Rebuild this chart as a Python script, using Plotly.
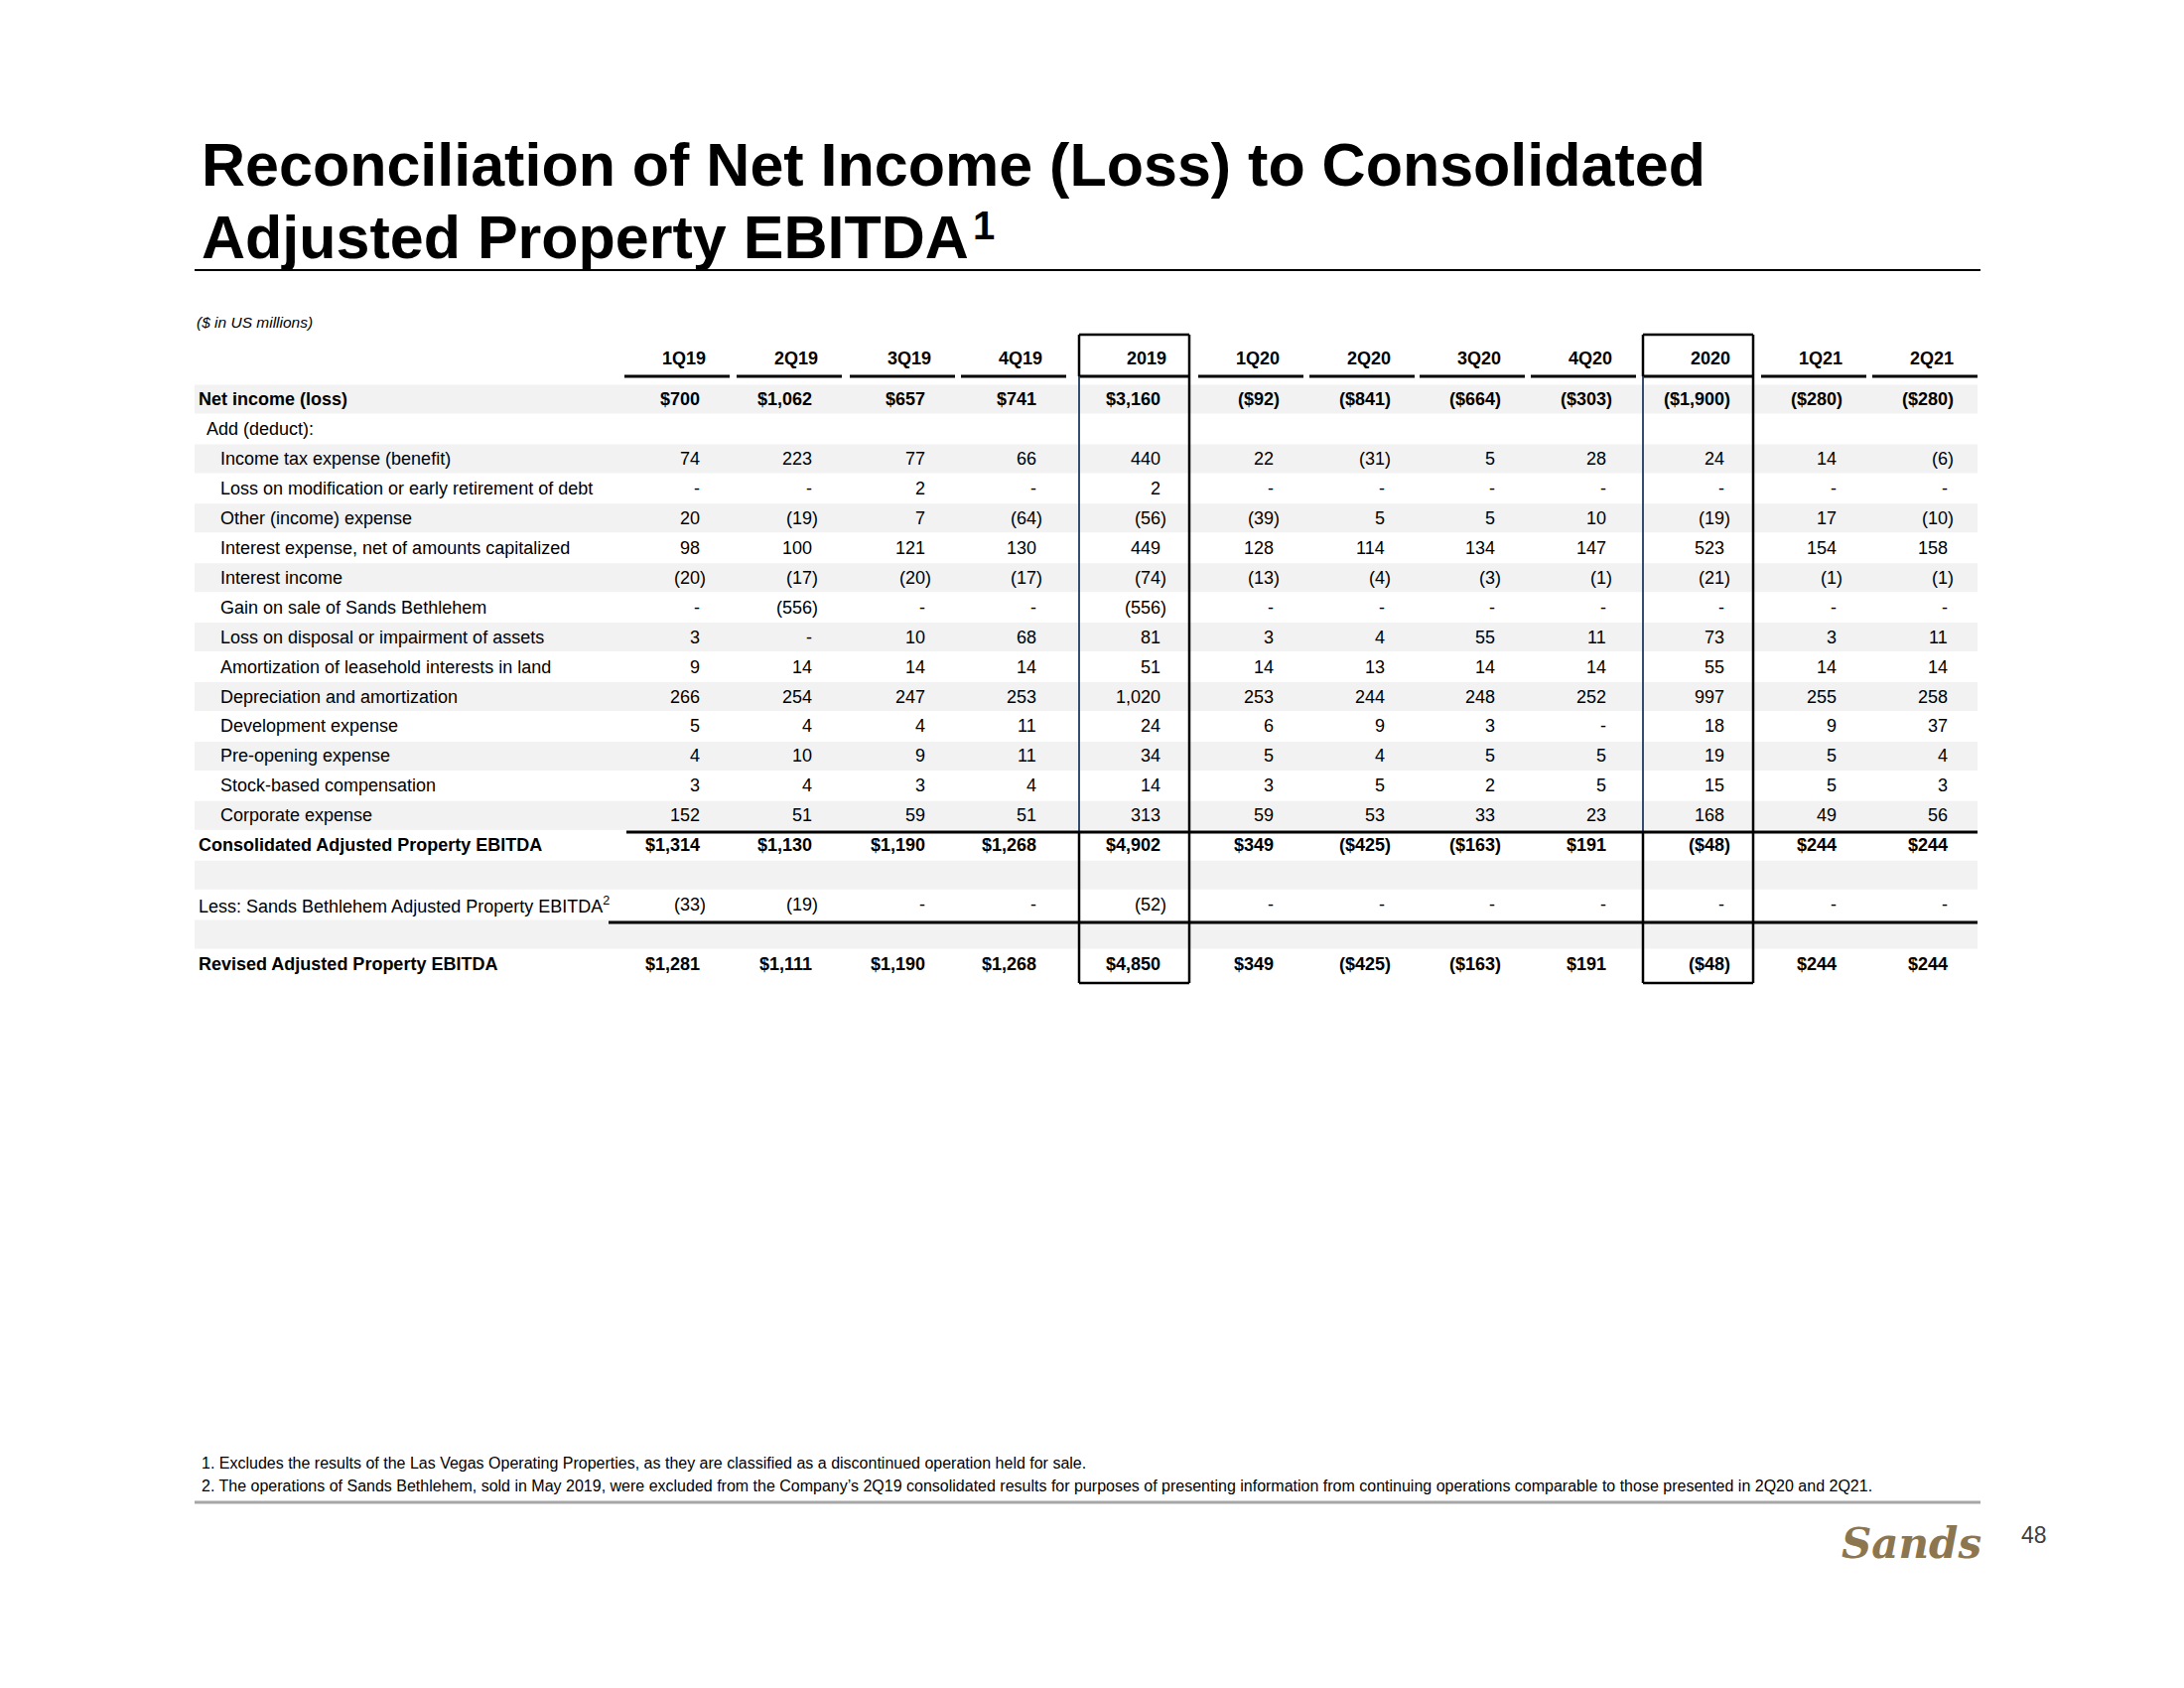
import plotly.graph_objects as go

# ---------------- data ----------------
periods = ["1Q19", "2Q19", "3Q19", "4Q19", "2019", "1Q20", "2Q20", "3Q20", "4Q20", "2020", "1Q21", "2Q21"]
year_periods = ["2019", "2020"]

net_income = [700, 1062, 657, 741, 3160, -92, -841, -664, -303, -1900, -280, -280]
income_tax = [74, 223, 77, 66, 440, 22, -31, 5, 28, 24, 14, -6]
loss_modification = [None, None, 2, None, 2, None, None, None, None, None, None, None]
other_income = [20, -19, 7, -64, -56, -39, 5, 5, 10, -19, 17, -10]
interest_expense = [98, 100, 121, 130, 449, 128, 114, 134, 147, 523, 154, 158]
interest_income = [-20, -17, -20, -17, -74, -13, -4, -3, -1, -21, -1, -1]
gain_bethlehem = [None, -556, None, None, -556, None, None, None, None, None, None, None]
loss_disposal = [3, None, 10, 68, 81, 3, 4, 55, 11, 73, 3, 11]
amort_leasehold = [9, 14, 14, 14, 51, 14, 13, 14, 14, 55, 14, 14]
depreciation = [266, 254, 247, 253, 1020, 253, 244, 248, 252, 997, 255, 258]
development = [5, 4, 4, 11, 24, 6, 9, 3, None, 18, 9, 37]
pre_opening = [4, 10, 9, 11, 34, 5, 4, 5, 5, 19, 5, 4]
stock_comp = [3, 4, 3, 4, 14, 3, 5, 2, 5, 15, 5, 3]
corporate = [152, 51, 59, 51, 313, 59, 53, 33, 23, 168, 49, 56]
consolidated_ebitda = [1314, 1130, 1190, 1268, 4902, 349, -425, -163, 191, -48, 244, 244]
less_bethlehem = [-33, -19, None, None, -52, None, None, None, None, None, None, None]
revised_ebitda = [1281, 1111, 1190, 1268, 4850, 349, -425, -163, 191, -48, 244, 244]

# (label, values, kind)
rows = [
    ("Net income (loss)", net_income, "total"),
    ("Add (deduct):", None, "section"),
    ("Income tax expense (benefit)", income_tax, "item"),
    ("Loss on modification or early retirement of debt", loss_modification, "item"),
    ("Other (income) expense", other_income, "item"),
    ("Interest expense, net of amounts capitalized", interest_expense, "item"),
    ("Interest income", interest_income, "item"),
    ("Gain on sale of Sands Bethlehem", gain_bethlehem, "item"),
    ("Loss on disposal or impairment of assets", loss_disposal, "item"),
    ("Amortization of leasehold interests in land", amort_leasehold, "item"),
    ("Depreciation and amortization", depreciation, "item"),
    ("Development expense", development, "item"),
    ("Pre-opening expense", pre_opening, "item"),
    ("Stock-based compensation", stock_comp, "item"),
    ("Corporate expense", corporate, "item"),
    ("Consolidated Adjusted Property EBITDA", consolidated_ebitda, "total"),
    ("", None, "blank"),
    ("Less: Sands Bethlehem Adjusted Property EBITDA<sup>2</sup>", less_bethlehem, "less"),
    ("", None, "blank"),
    ("Revised Adjusted Property EBITDA", revised_ebitda, "total"),
]

title_line1 = "Reconciliation of Net Income (Loss) to Consolidated"
title_line2 = "Adjusted Property EBITDA"
title_note_mark = "1"
units_note = "($ in US millions)"
footnotes = [
    "1. Excludes the results of the Las Vegas Operating Properties, as they are classified as a discontinued operation held for sale.",
    "2. The operations of Sands Bethlehem, sold in May 2019, were excluded from the Company\u2019s 2Q19 consolidated results for purposes of presenting information from continuing operations comparable to those presented in 2Q20 and 2Q21.",
]
page_number = "48"
logo_text = "Sands"

# ---------------- layout constants ----------------
W, H = 2200, 1700
OFF = 8  # page body margin compensation
BODY = "Liberation Sans, Arial, Helvetica, sans-serif"
SANS = "Liberation Sans, Arial, Helvetica, sans-serif"
col_right = [713, 826, 940, 1052, 1177, 1291, 1403, 1514, 1626, 1745, 1858, 1970]
fs = 18
paren_w = 0.333 * fs
row0_y = 402
row_h = 29.95
header_y = 361
header_line_y = 379
box_top = 337
box_bottom = 990
table_left, table_right = 196, 1992
cons_line_y = 838
less_line_y = 929


def fmt(v, dollar):
    if v is None:
        return "-"
    s = f"{abs(v):,}"
    if dollar:
        s = "$" + s
    return f"({s})" if v < 0 else s


def row_y(i):
    return row0_y + row_h * i


fig = go.Figure()
shapes = []
annotations = []

# row shading
for i in range(len(rows)):
    if i % 2 == 0:
        y = row_y(i)
        shapes.append(dict(type="rect", x0=table_left, x1=table_right, y0=y - 14.5, y1=y + 14.5,
                           fillcolor="#f2f2f2", line=dict(width=0), layer="below"))

# header labels and underlines
for j, p in enumerate(periods):
    cr = col_right[j]
    annotations.append(dict(x=cr, y=header_y, text=f"<b>{p}</b>", xanchor="right", yanchor="middle",
                            showarrow=False, font=dict(family=BODY, size=fs, color="black")))
    if p in year_periods:
        x0, x1 = cr - 90, cr + 21
    else:
        x0, x1 = cr - 84, cr + 22
    shapes.append(dict(type="line", x0=x0, x1=x1, y0=header_line_y, y1=header_line_y,
                       line=dict(color="black", width=3)))

# year boxes
for j, p in enumerate(periods):
    if p in year_periods:
        cr = col_right[j]
        x0, x1 = cr - 90, cr + 21
        blk = dict(color="black", width=2.5)
        shapes.append(dict(type="line", x0=x0, x1=x1, y0=box_top, y1=box_top, line=blk))
        shapes.append(dict(type="line", x0=x0, x1=x1, y0=box_bottom, y1=box_bottom, line=blk))
        shapes.append(dict(type="line", x0=x1, x1=x1, y0=box_top, y1=box_bottom, line=blk))
        shapes.append(dict(type="line", x0=x0, x1=x0, y0=box_top, y1=header_line_y, line=blk))
        shapes.append(dict(type="line", x0=x0, x1=x0, y0=header_line_y, y1=cons_line_y,
                           line=dict(color="#1f3a5f", width=1.8)))
        shapes.append(dict(type="line", x0=x0, x1=x0, y0=cons_line_y, y1=box_bottom, line=blk))

# total lines
shapes.append(dict(type="line", x0=631, x1=table_right, y0=cons_line_y, y1=cons_line_y,
                   line=dict(color="black", width=3)))
shapes.append(dict(type="line", x0=613, x1=table_right, y0=less_line_y, y1=less_line_y,
                   line=dict(color="black", width=3)))

# rows
for i, (label, vals, kind) in enumerate(rows):
    y = row_y(i)
    if kind == "total":
        lx, txt = 198, f"<b>{label}</b>"
    elif kind == "section":
        lx, txt = 206, label
    elif kind == "item":
        lx, txt = 220, label
    else:
        lx, txt = 198, label
    if label:
        annotations.append(dict(x=lx, y=y, text=txt, xanchor="left", yanchor="middle", showarrow=False,
                                font=dict(family=BODY, size=fs, color="black")))
    if vals is None:
        continue
    dollar = kind == "total"
    for j, v in enumerate(vals):
        s = fmt(v, dollar)
        x = col_right[j] if (v is not None and v < 0) else col_right[j] - paren_w
        if dollar:
            s = f"<b>{s}</b>"
        annotations.append(dict(x=x, y=y, text=s, xanchor="right", yanchor="middle", showarrow=False,
                                font=dict(family=BODY, size=fs, color="black")))

# title
annotations.append(dict(x=201, y=166, text=f"<b>{title_line1}</b>", xanchor="left", yanchor="middle",
                        showarrow=False, font=dict(family=SANS, size=61, color="black")))
annotations.append(dict(x=201, y=239, text=f"<b>{title_line2}</b>", xanchor="left", yanchor="middle",
                        showarrow=False, font=dict(family=SANS, size=61, color="black")))
annotations.append(dict(x=978, y=227, text=f"<b>{title_note_mark}</b>", xanchor="left", yanchor="middle",
                        showarrow=False, font=dict(family=SANS, size=40, color="black")))
shapes.append(dict(type="line", x0=196, x1=1995, y0=272, y1=272, line=dict(color="black", width=2)))

annotations.append(dict(x=196, y=324, text=f"<i>{units_note}</i>", xanchor="left", yanchor="middle",
                        showarrow=False, font=dict(family=BODY, size=15.5, color="black")))

# footnotes
for k, ftxt in enumerate(footnotes):
    annotations.append(dict(x=201, y=1473 + 23 * k, text=ftxt, xanchor="left", yanchor="middle",
                            showarrow=False, font=dict(family=BODY, size=16, color="black")))
shapes.append(dict(type="line", x0=196, x1=1995, y0=1513, y1=1513, line=dict(color="#a6a6a6", width=3)))

# logo & page number
annotations.append(dict(x=1925, y=1554, text=f"<b><i>{logo_text}</i></b>", xanchor="center", yanchor="middle",
                        showarrow=False, font=dict(family="DejaVu Serif, serif", size=42, color="#8c7650")))
annotations.append(dict(x=2049, y=1546, text=page_number, xanchor="center", yanchor="middle",
                        showarrow=False, font=dict(family=BODY, size=23, color="#404040")))

fig.update_layout(
    width=W, height=H, margin=dict(l=0, r=0, t=0, b=0),
    paper_bgcolor="white", plot_bgcolor="white",
    xaxis=dict(range=[OFF, W + OFF], visible=False, fixedrange=True),
    yaxis=dict(range=[H + OFF, OFF], visible=False, fixedrange=True),
    shapes=shapes, annotations=annotations, showlegend=False,
)

fig.write_html("out.html")
